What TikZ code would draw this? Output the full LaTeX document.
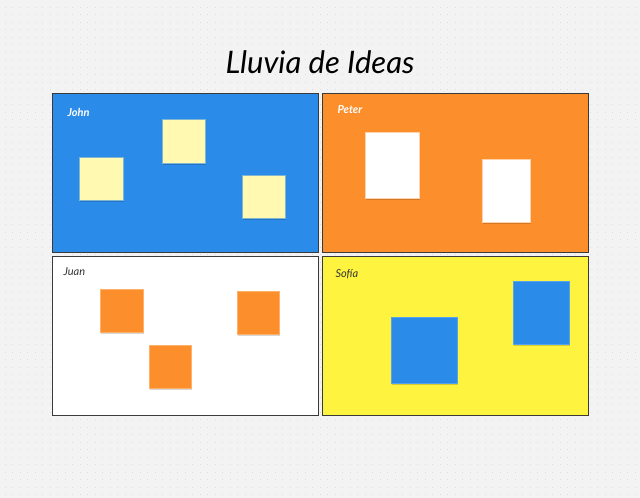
\documentclass[tikz,border=0pt]{standalone}
\usepackage{fontspec}
\setmainfont{Lato}
\usetikzlibrary{shadows}
\definecolor{bgc}{HTML}{F3F3F3}
\definecolor{dotc}{HTML}{DEDEDE}
\definecolor{mblue}{HTML}{2A8BE8}
\definecolor{morange}{HTML}{FC8F2C}
\definecolor{myellow}{HTML}{FEF33F}
\definecolor{stickyy}{HTML}{FFF9B1}
\definecolor{frame}{HTML}{3A3A3A}
\tikzset{
  panel/.style={draw=frame, line width=0.9pt},
  note/.style={line width=0.6pt, drop shadow={shadow xshift=0.6pt, shadow yshift=-1.6pt, opacity=0.16, fill=black}},
  lbl/.style={anchor=west, font=\itshape\fontsize{11}{13}\selectfont},
  lblb/.style={anchor=west, font=\bfseries\itshape\fontsize{11}{13}\selectfont},
}
\begin{document}
\begin{tikzpicture}[x=1pt,y=-1pt]
\useasboundingbox (0,0) rectangle (640,498);
\fill[bgc] (0,0) rectangle (640,498);
% dot grid
\foreach \i in {0,...,85} {
  \foreach \j in {0,...,66} {
    \fill[dotc] ({5+7.5*\i-0.5},{7+7.5*\j-0.5}) rectangle ++(1,1);
  }
}
% title
\node[font=\itshape\fontsize{31}{35}\selectfont] (title) at (320,62) {Lluvia de Ideas};
% panels
\path[panel, fill=mblue] (52,93) rectangle (318,252) coordinate (pjohn);
\path[panel, fill=morange] (322,93) rectangle (588,252) coordinate (ppeter);
\path[panel, fill=white] (52,256) rectangle (318,415) coordinate (pjuan);
\path[panel, fill=myellow] (322,256) rectangle (588,415) coordinate (psofia);
% labels
\node[lblb, text=white] (ljohn) at (64,112) {John};
\node[lblb, text=white] (lpeter) at (334,110) {Peter};
\node[lbl, text=black!80] (ljuan) at (60,272) {Juan};
\node[lbl, text=black!80] (lsofia) at (332,274) {Sofía};
% John notes
\path[note, fill=stickyy, draw=mblue!60!stickyy] (79,157) rectangle (123,200);
\path[note, fill=stickyy, draw=mblue!60!stickyy] (162,119) rectangle (205,163);
\path[note, fill=stickyy, draw=mblue!60!stickyy] (242,175) rectangle (285,218);
% Peter notes
\path[note, fill=white, draw=morange!40!white] (365,132) rectangle (419,198);
\path[note, fill=white, draw=morange!40!white] (482,159) rectangle (530,222);
% Juan notes
\path[note, fill=morange, draw=morange!70!white] (100,289) rectangle (143,332);
\path[note, fill=morange, draw=morange!70!white] (237,291) rectangle (279,334);
\path[note, fill=morange, draw=morange!70!white] (149,345) rectangle (191,388);
% Sofia notes
\path[note, fill=mblue, draw=mblue!80!white] (391,317) rectangle (457,383);
\path[note, fill=mblue, draw=mblue!80!white] (513,281) rectangle (569,344);
\end{tikzpicture}
\end{document}
